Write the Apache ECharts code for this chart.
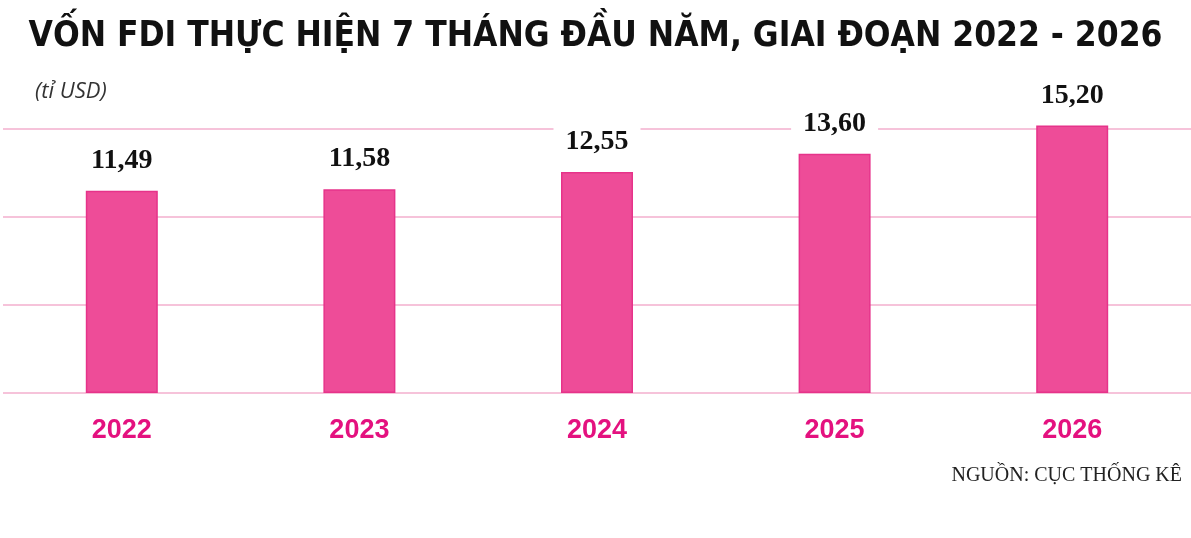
<!DOCTYPE html>
<html><head><meta charset="utf-8">
<script src="https://cdn.jsdelivr.net/npm/echarts@6/dist/echarts.min.js"></script>
<style>html,body{margin:0;padding:0;background:#fff}#c{width:1191px;height:538px}</style>
</head><body><div id="c"></div>
<script>
const categories = ['2022','2023','2024','2025','2026'];
const values = [11.49, 11.58, 12.55, 13.60, 15.20];
const valueLabels = ['11,49','11,58','12,55','13,60','15,20'];
const chart = echarts.init(document.getElementById('c'));
chart.setOption({
  backgroundColor:'#fff',
  animation:false,
  title:[
    {text:'VỐN FDI THỰC HIỆN 7 THÁNG ĐẦU NĂM, GIAI ĐOẠN 2022 - 2026',left:'center',top:14,
     textStyle:{fontFamily:'DejaVu Sans Condensed',fontWeight:'bold',fontSize:35,color:'#111'}},
    {text:'(tỉ USD)',left:30,top:76,textStyle:{fontFamily:'Open Sans',fontStyle:'italic',fontWeight:'normal',fontSize:22,color:'#333'}},
    {text:'NGUỒN: CỤC THỐNG KÊ',right:4,top:461,textStyle:{fontFamily:'Liberation Serif',fontWeight:'normal',fontSize:20,color:'#222'}}
  ],
  grid:{left:3,right:-13,top:129,bottom:145},
  xAxis:{type:'category',data:categories,axisLine:{show:false},axisTick:{show:false},
    axisLabel:{margin:24,fontFamily:'Liberation Sans',fontWeight:'bold',fontSize:27,color:'#e4117f'}},
  yAxis:{type:'value',min:0,max:15,interval:5,axisLabel:{show:false},axisLine:{show:false},axisTick:{show:false},
    splitLine:{lineStyle:{color:'#f6c3da',width:2}}},
  series:[{type:'bar',data:values,barWidth:72,clip:false,
    itemStyle:{color:'#ee4c98',borderColor:'#e6338a',borderWidth:1.5},
    label:{show:true,position:'top',distance:14,formatter:p=>valueLabels[p.dataIndex],
      fontFamily:'Liberation Serif',fontWeight:'bold',fontSize:28,color:'#111',
      backgroundColor:'#fff',padding:[2,12]}}]
});
</script></body></html>
